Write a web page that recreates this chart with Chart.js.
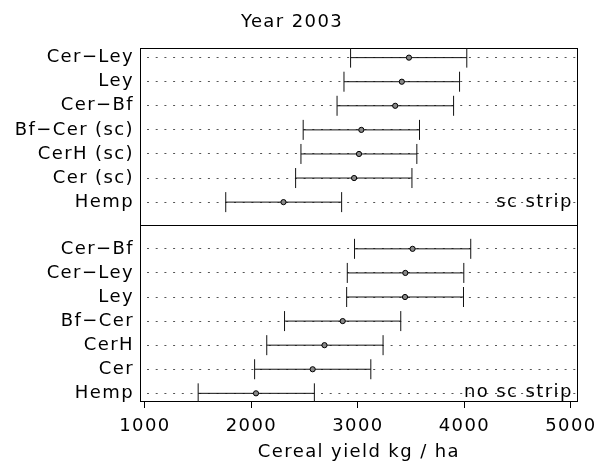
<!DOCTYPE html>
<html>
<head>
<meta charset="utf-8">
<script src="https://cdn.jsdelivr.net/npm/chart.js@4/dist/chart.umd.min.js"></script>
<style>
  html, body { margin: 0; padding: 0; background: #fff; }
  canvas { display: block; }
</style>
</head>
<body>
<canvas id="c" width="605" height="465"></canvas>
<script>
// ---- data ----
const chartTitle = 'Year 2003';
const xAxisTitle = 'Cereal yield kg / ha';
const xTickValues = [1000, 2000, 3000, 4000, 5000];

const topPanelName = 'sc strip';
const topLabels = ['Cer−Ley', 'Ley', 'Cer−Bf', 'Bf−Cer (sc)', 'CerH (sc)', 'Cer (sc)', 'Hemp'];
const topMean   = [3479, 3412, 3350, 3032, 3010, 2964, 2301];
const topLow    = [2931, 2869, 2804, 2486, 2465, 2415, 1759];
const topHigh   = [4022, 3954, 3898, 3578, 3553, 3507, 2847];

const bottomPanelName = 'no sc strip';
const bottomLabels = ['Cer−Bf', 'Cer−Ley', 'Ley', 'Bf−Cer', 'CerH', 'Cer', 'Hemp'];
const bottomMean   = [3513, 3445, 3442, 2857, 2686, 2575, 2043];
const bottomLow    = [2968, 2900, 2894, 2311, 2144, 2030, 1500];
const bottomHigh   = [4059, 3994, 3991, 3402, 3236, 3121, 2591];

// ---- layout of rows on a continuous y scale (row units) ----
const FONT = "'DejaVu Sans', sans-serif";
const LETTER_SPACING = '1.4px';
const n = topLabels.length;
const dividerPos = (n - 1) + 0.94;
const bottomStart = dividerPos + 1.0;
const topPos = topLabels.map((_, i) => i);
const bottomPos = bottomLabels.map((_, i) => bottomStart + i);
const yMin = -0.4;
const yMax = bottomPos[bottomPos.length - 1] + 0.36;

const rows = [];
topLabels.forEach((l, i) => rows.push({pos: topPos[i], label: l, mean: topMean[i], lo: topLow[i], hi: topHigh[i]}));
bottomLabels.forEach((l, i) => rows.push({pos: bottomPos[i], label: l, mean: bottomMean[i], lo: bottomLow[i], hi: bottomHigh[i]}));
const labelAt = new Map(rows.map(r => [r.pos.toFixed(3), r.label]));

const datasets = [];
datasets.push({
  type: 'scatter',
  data: rows.map(r => ({x: r.mean, y: r.pos})),
  pointStyle: 'circle',
  pointRadius: 2.6,
  pointBorderWidth: 1,
  pointBorderColor: '#000',
  pointBackgroundColor: '#888',
  showLine: false
});
datasets.push({
  type: 'scatter',
  data: rows.flatMap(r => [{x: r.lo, y: r.pos}, {x: r.hi, y: r.pos}]),
  pointStyle: 'line',
  rotation: 90,
  pointRadius: 10,
  pointBorderWidth: 1,
  pointBorderColor: '#111',
  showLine: false
});
rows.forEach(r => {
  datasets.push({
    type: 'line',
    data: [{x: r.lo, y: r.pos}, {x: r.hi, y: r.pos}],
    borderColor: '#111',
    borderWidth: 1,
    pointRadius: 0,
    fill: false
  });
});

const spacingPlugin = {
  id: 'spacing',
  beforeUpdate(c) { c.ctx.letterSpacing = LETTER_SPACING; },
  beforeLayout(c) { c.ctx.letterSpacing = LETTER_SPACING; },
  beforeDraw(c) { c.ctx.letterSpacing = LETTER_SPACING; }
};

const framePlugin = {
  id: 'frame',
  beforeDatasetsDraw(c) {
    const a = c.chartArea, ctx = c.ctx, ys = c.scales.y;
    ctx.save();
    ctx.strokeStyle = '#000';
    ctx.lineWidth = 1;
    const L = Math.round(a.left) + 0.5, T = Math.round(a.top) + 0.5;
    const R = Math.round(a.right) - 0.5, B = Math.round(a.bottom) - 0.5;
    ctx.strokeRect(L, T, R - L, B - T);
    const yd = Math.round(ys.getPixelForValue(dividerPos)) + 0.5;
    ctx.beginPath();
    ctx.moveTo(L, yd);
    ctx.lineTo(R, yd);
    ctx.stroke();
    ctx.restore();
  },
  afterDraw(c) {
    const ctx = c.ctx, a = c.chartArea, ys = c.scales.y;
    ctx.save();
    ctx.letterSpacing = LETTER_SPACING;
    ctx.font = '18px ' + FONT;
    ctx.fillStyle = '#000';
    ctx.textAlign = 'right';
    ctx.textBaseline = 'alphabetic';
    ctx.fillText(topPanelName, a.right - 5, ys.getPixelForValue(topPos[n - 1]) + 5);
    ctx.fillText(bottomPanelName, a.right - 5, ys.getPixelForValue(bottomPos[n - 1]) + 4);
    ctx.restore();
  }
};

new Chart(document.getElementById('c'), {
  data: { datasets },
  plugins: [spacingPlugin, framePlugin],
  options: {
    responsive: false,
    animation: false,
    devicePixelRatio: 1,
    layout: { padding: { left: 0, right: 21, top: 0, bottom: 0 } },
    plugins: {
      legend: { display: false },
      tooltip: { enabled: false },
      title: {
        display: true,
        text: chartTitle,
        color: '#000',
        font: { family: FONT, size: 18, weight: 'normal', lineHeight: 1.2 },
        padding: { top: 12, bottom: 14.4 }
      }
    },
    scales: {
      x: {
        type: 'linear',
        position: 'bottom',
        min: 954,
        max: 5064,
        afterBuildTicks: s => { s.ticks = xTickValues.map(v => ({value: v})); },
        afterFit: s => { s.height = 63; },
        border: { display: false },
        grid: { drawOnChartArea: false, drawTicks: true, tickLength: 6, tickColor: '#000', tickWidth: 1 },
        ticks: {
          color: '#000', padding: 8, maxRotation: 0,
          font: { family: FONT, size: 18 },
          callback: v => String(v)
        },
        title: {
          display: true,
          text: xAxisTitle,
          color: '#000',
          font: { family: FONT, size: 18 },
          padding: { top: 0, bottom: 2 }
        }
      },
      y: {
        type: 'linear',
        position: 'left',
        reverse: true,
        min: yMin,
        max: yMax,
        afterBuildTicks: s => { s.ticks = rows.map(r => ({value: r.pos})); },
        afterFit: s => { s.width = 140; },
        border: { display: false, dash: [2, 6.7], dashOffset: -7 },
        grid: {
          drawTicks: false,
          tickLength: 0,
          lineWidth: 1,
          color: '#555'
        },
        ticks: {
          color: '#000',
          padding: 6,
          autoSkip: false,
          font: { family: FONT, size: 18 },
          callback: v => labelAt.get(Number(v).toFixed(3)) || ''
        }
      }
    }
  }
});
</script>
</body>
</html>
